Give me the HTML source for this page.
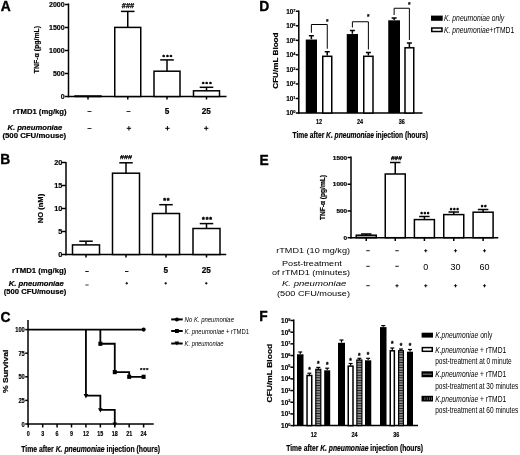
<!DOCTYPE html>
<html><head><meta charset="utf-8"><title>Figure</title>
<style>html,body{margin:0;padding:0;background:#fff;width:520px;height:455px;overflow:hidden}
svg{display:block;font-family:"Liberation Sans",sans-serif;filter:grayscale(1)}
text[font-weight="bold"]:not([stroke]){stroke:#000;stroke-width:0.2px}</style></head>
<body><svg width="520" height="455" viewBox="0 0 520 455" font-family="Liberation Sans, sans-serif"><defs>
<pattern id="hs" patternUnits="userSpaceOnUse" width="4" height="2.55"><rect width="4" height="2.55" fill="#1a1a1a"/><rect y="1.2" width="4" height="1.0" fill="#ddd"/></pattern>
<pattern id="vs" patternUnits="userSpaceOnUse" width="1.6" height="4"><rect width="1.6" height="4" fill="#fff"/><rect width="0.9" height="4" fill="#222"/></pattern>
</defs>
<text x="0.8" y="10.9" font-size="13.8" font-weight="bold" font-style="normal" text-anchor="start" fill="#000" stroke="#000" stroke-width="0.35">A</text>
<line x1="64.8" y1="4.5" x2="68.5" y2="4.5" stroke="#000" stroke-width="1.5"/>
<text x="64.6" y="7.0" font-size="7" font-weight="bold" font-style="normal" text-anchor="end" fill="#000">2000</text>
<line x1="64.8" y1="27.5" x2="68.5" y2="27.5" stroke="#000" stroke-width="1.5"/>
<text x="64.6" y="30.0" font-size="7" font-weight="bold" font-style="normal" text-anchor="end" fill="#000">1500</text>
<line x1="64.8" y1="50.5" x2="68.5" y2="50.5" stroke="#000" stroke-width="1.5"/>
<text x="64.6" y="53.0" font-size="7" font-weight="bold" font-style="normal" text-anchor="end" fill="#000">1000</text>
<line x1="64.8" y1="73.5" x2="68.5" y2="73.5" stroke="#000" stroke-width="1.5"/>
<text x="64.6" y="76.0" font-size="7" font-weight="bold" font-style="normal" text-anchor="end" fill="#000">500</text>
<line x1="64.8" y1="96.5" x2="68.5" y2="96.5" stroke="#000" stroke-width="1.5"/>
<text x="64.6" y="99.0" font-size="7" font-weight="bold" font-style="normal" text-anchor="end" fill="#000">0</text>
<line x1="68.5" y1="3.5" x2="68.5" y2="97.25" stroke="#000" stroke-width="1.5"/>
<line x1="67.75" y1="96.5" x2="226.5" y2="96.5" stroke="#000" stroke-width="1.5"/>
<text transform="translate(39.0,49.6) rotate(-90)" x="0" y="0" font-size="7.6" font-weight="bold" font-style="normal" text-anchor="middle" textLength="47.5" lengthAdjust="spacingAndGlyphs">TNF-α (pg/mL)</text>
<line x1="88" y1="96.5" x2="88" y2="99.5" stroke="#000" stroke-width="1.5"/>
<rect x="75.0" y="96.0" width="26.0" height="0.5" fill="#fff" stroke="#000" stroke-width="1.5"/>
<line x1="127.75" y1="96.5" x2="127.75" y2="99.5" stroke="#000" stroke-width="1.5"/>
<line x1="127.75" y1="27.4" x2="127.75" y2="11.4" stroke="#000" stroke-width="1.5"/>
<line x1="120.95" y1="11.4" x2="134.55" y2="11.4" stroke="#000" stroke-width="1.5"/>
<rect x="114.75" y="27.4" width="26.0" height="69.1" fill="#fff" stroke="#000" stroke-width="1.5"/>
<line x1="167" y1="96.5" x2="167" y2="99.5" stroke="#000" stroke-width="1.5"/>
<line x1="167" y1="71.2" x2="167" y2="59.9" stroke="#000" stroke-width="1.5"/>
<line x1="160.2" y1="59.9" x2="173.8" y2="59.9" stroke="#000" stroke-width="1.5"/>
<rect x="154.0" y="71.2" width="26.0" height="25.299999999999997" fill="#fff" stroke="#000" stroke-width="1.5"/>
<line x1="206.5" y1="96.5" x2="206.5" y2="99.5" stroke="#000" stroke-width="1.5"/>
<line x1="206.5" y1="90.8" x2="206.5" y2="87.3" stroke="#000" stroke-width="1.5"/>
<line x1="199.7" y1="87.3" x2="213.3" y2="87.3" stroke="#000" stroke-width="1.5"/>
<rect x="193.5" y="90.8" width="26.0" height="5.700000000000003" fill="#fff" stroke="#000" stroke-width="1.5"/>
<text x="121.85" y="7.50" font-size="6.46" font-weight="bold" textLength="12.3" lengthAdjust="spacingAndGlyphs" stroke="#000" stroke-width="0.25">###</text>
<text x="163.80" y="58.76" font-size="6.1" font-weight="bold" text-anchor="middle" stroke="#000" stroke-width="0.45">*</text>
<text x="167.40" y="58.76" font-size="6.1" font-weight="bold" text-anchor="middle" stroke="#000" stroke-width="0.45">*</text>
<text x="171.00" y="58.76" font-size="6.1" font-weight="bold" text-anchor="middle" stroke="#000" stroke-width="0.45">*</text>
<text x="203.20" y="85.86" font-size="6.1" font-weight="bold" text-anchor="middle" stroke="#000" stroke-width="0.45">*</text>
<text x="206.80" y="85.86" font-size="6.1" font-weight="bold" text-anchor="middle" stroke="#000" stroke-width="0.45">*</text>
<text x="210.40" y="85.86" font-size="6.1" font-weight="bold" text-anchor="middle" stroke="#000" stroke-width="0.45">*</text>
<text x="12.8" y="113.5" font-size="7.5" font-weight="bold" font-style="normal" text-anchor="start" textLength="53.8" lengthAdjust="spacingAndGlyphs" fill="#000">rTMD1 (mg/kg)</text>
<text x="7.4" y="129.9" font-size="7.5" font-weight="bold" font-style="italic" text-anchor="start" textLength="54.8" lengthAdjust="spacingAndGlyphs" fill="#000">K. pneumoniae</text>
<text x="2.4" y="138.4" font-size="7.5" font-weight="bold" font-style="normal" text-anchor="start" textLength="63.8" lengthAdjust="spacingAndGlyphs" fill="#000">(500  CFU/mouse)</text>
<rect x="87.5" y="111.0" width="4.0" height="0.8000000000000114" fill="#000"/>
<rect x="126.5" y="111.0" width="4.0" height="0.8000000000000114" fill="#000"/>
<text x="167" y="113.9" font-size="8.2" font-weight="bold" font-style="normal" text-anchor="middle" fill="#000">5</text>
<text x="206.3" y="113.9" font-size="8.2" font-weight="bold" font-style="normal" text-anchor="middle" fill="#000">25</text>
<rect x="87.5" y="128.1" width="4.0" height="0.8000000000000114" fill="#000"/>
<rect x="126.7" y="127.80000000000001" width="4.3999999999999915" height="1.0" fill="#000"/>
<rect x="128.4" y="126.10000000000001" width="1.0" height="4.3999999999999915" fill="#000"/>
<rect x="165.20000000000002" y="127.80000000000001" width="4.399999999999977" height="1.0" fill="#000"/>
<rect x="166.9" y="126.10000000000001" width="1.0" height="4.3999999999999915" fill="#000"/>
<rect x="204.0" y="127.80000000000001" width="4.399999999999977" height="1.0" fill="#000"/>
<rect x="205.7" y="126.10000000000001" width="1.0" height="4.3999999999999915" fill="#000"/>
<text x="0.2" y="163.6" font-size="13.8" font-weight="bold" font-style="normal" text-anchor="start" fill="#000" stroke="#000" stroke-width="0.35">B</text>
<line x1="62" y1="162.5" x2="66" y2="162.5" stroke="#000" stroke-width="1.5"/>
<text x="62.4" y="165.0" font-size="7.3" font-weight="bold" font-style="normal" text-anchor="end" fill="#000">20</text>
<line x1="62" y1="185.5" x2="66" y2="185.5" stroke="#000" stroke-width="1.5"/>
<text x="62.4" y="188.0" font-size="7.3" font-weight="bold" font-style="normal" text-anchor="end" fill="#000">15</text>
<line x1="62" y1="208.5" x2="66" y2="208.5" stroke="#000" stroke-width="1.5"/>
<text x="62.4" y="211.0" font-size="7.3" font-weight="bold" font-style="normal" text-anchor="end" fill="#000">10</text>
<line x1="62" y1="231.5" x2="66" y2="231.5" stroke="#000" stroke-width="1.5"/>
<text x="62.4" y="234.0" font-size="7.3" font-weight="bold" font-style="normal" text-anchor="end" fill="#000">5</text>
<line x1="62" y1="254.5" x2="66" y2="254.5" stroke="#000" stroke-width="1.5"/>
<text x="62.4" y="257.0" font-size="7.3" font-weight="bold" font-style="normal" text-anchor="end" fill="#000">0</text>
<line x1="66" y1="162" x2="66" y2="255.25" stroke="#000" stroke-width="1.5"/>
<line x1="65.25" y1="254.5" x2="226.25" y2="254.5" stroke="#000" stroke-width="1.5"/>
<text transform="translate(42.5,208.5) rotate(-90)" x="0" y="0" font-size="7.6" font-weight="bold" font-style="normal" text-anchor="middle" textLength="29.3" lengthAdjust="spacingAndGlyphs">NO (nM)</text>
<line x1="86" y1="254.5" x2="86" y2="257.5" stroke="#000" stroke-width="1.5"/>
<line x1="86" y1="244.9" x2="86" y2="241.2" stroke="#000" stroke-width="1.5"/>
<line x1="79.25" y1="241.2" x2="92.75" y2="241.2" stroke="#000" stroke-width="1.5"/>
<rect x="72.5" y="244.9" width="27.0" height="9.599999999999994" fill="#fff" stroke="#000" stroke-width="1.5"/>
<line x1="126" y1="254.5" x2="126" y2="257.5" stroke="#000" stroke-width="1.5"/>
<line x1="126" y1="173.2" x2="126" y2="162.8" stroke="#000" stroke-width="1.5"/>
<line x1="119.25" y1="162.8" x2="132.75" y2="162.8" stroke="#000" stroke-width="1.5"/>
<rect x="112.5" y="173.2" width="27.0" height="81.30000000000001" fill="#fff" stroke="#000" stroke-width="1.5"/>
<line x1="166" y1="254.5" x2="166" y2="257.5" stroke="#000" stroke-width="1.5"/>
<line x1="166" y1="213.5" x2="166" y2="204.7" stroke="#000" stroke-width="1.5"/>
<line x1="159.25" y1="204.7" x2="172.75" y2="204.7" stroke="#000" stroke-width="1.5"/>
<rect x="152.5" y="213.5" width="27.0" height="41.0" fill="#fff" stroke="#000" stroke-width="1.5"/>
<line x1="206.5" y1="254.5" x2="206.5" y2="257.5" stroke="#000" stroke-width="1.5"/>
<line x1="206.5" y1="228.5" x2="206.5" y2="223.6" stroke="#000" stroke-width="1.5"/>
<line x1="199.75" y1="223.6" x2="213.25" y2="223.6" stroke="#000" stroke-width="1.5"/>
<rect x="193.0" y="228.5" width="27.0" height="26.0" fill="#fff" stroke="#000" stroke-width="1.5"/>
<text x="120.00" y="159.10" font-size="6.17" font-weight="bold" textLength="12" lengthAdjust="spacingAndGlyphs" stroke="#000" stroke-width="0.25">###</text>
<text x="164.50" y="203.21" font-size="7" font-weight="bold" text-anchor="middle" stroke="#000" stroke-width="0.45">*</text>
<text x="168.10" y="203.21" font-size="7" font-weight="bold" text-anchor="middle" stroke="#000" stroke-width="0.45">*</text>
<text x="203.40" y="222.41" font-size="7" font-weight="bold" text-anchor="middle" stroke="#000" stroke-width="0.45">*</text>
<text x="207.00" y="222.41" font-size="7" font-weight="bold" text-anchor="middle" stroke="#000" stroke-width="0.45">*</text>
<text x="210.60" y="222.41" font-size="7" font-weight="bold" text-anchor="middle" stroke="#000" stroke-width="0.45">*</text>
<text x="12" y="273" font-size="7.5" font-weight="bold" font-style="normal" text-anchor="start" textLength="54.25" lengthAdjust="spacingAndGlyphs" fill="#000">rTMD1 (mg/kg)</text>
<text x="8.75" y="285.8" font-size="7.5" font-weight="bold" font-style="italic" text-anchor="start" textLength="55.0" lengthAdjust="spacingAndGlyphs" fill="#000">K. pneumoniae</text>
<text x="3.75" y="294" font-size="7.5" font-weight="bold" font-style="normal" text-anchor="start" textLength="62.5" lengthAdjust="spacingAndGlyphs" fill="#000">(500 CFU/mouse)</text>
<rect x="85.25" y="271.05" width="3.5" height="0.8999999999999773" fill="#000"/>
<rect x="125.0" y="271.05" width="3.5" height="0.8999999999999773" fill="#000"/>
<text x="165.9" y="273.3" font-size="8.2" font-weight="bold" font-style="normal" text-anchor="middle" fill="#000">5</text>
<text x="206.3" y="273.3" font-size="8.2" font-weight="bold" font-style="normal" text-anchor="middle" fill="#000">25</text>
<rect x="85.4" y="284.6" width="3.1999999999999886" height="0.7999999999999545" fill="#000"/>
<rect x="125.5" y="282.8" width="2.5" height="0.8999999999999773" fill="#000"/>
<rect x="126.3" y="282.0" width="0.9000000000000057" height="2.5" fill="#000"/>
<rect x="164.5" y="282.8" width="2.5" height="0.8999999999999773" fill="#000"/>
<rect x="165.3" y="282.0" width="0.8999999999999773" height="2.5" fill="#000"/>
<rect x="205.0" y="282.8" width="2.5" height="0.8999999999999773" fill="#000"/>
<rect x="205.8" y="282.0" width="0.8999999999999773" height="2.5" fill="#000"/>
<text x="0.4" y="322.1" font-size="13.8" font-weight="bold" font-style="normal" text-anchor="start" fill="#000" stroke="#000" stroke-width="0.35">C</text>
<line x1="25.2" y1="329.6" x2="28" y2="329.6" stroke="#000" stroke-width="1.5"/>
<text x="15.2" y="332.1" font-size="7" font-weight="bold" font-style="normal" text-anchor="start" textLength="9.6" lengthAdjust="spacingAndGlyphs" fill="#000">100</text>
<line x1="25.2" y1="353.2" x2="28" y2="353.2" stroke="#000" stroke-width="1.5"/>
<text x="18.4" y="355.7" font-size="7" font-weight="bold" font-style="normal" text-anchor="start" textLength="6.4" lengthAdjust="spacingAndGlyphs" fill="#000">75</text>
<line x1="25.2" y1="376.8" x2="28" y2="376.8" stroke="#000" stroke-width="1.5"/>
<text x="18.4" y="379.3" font-size="7" font-weight="bold" font-style="normal" text-anchor="start" textLength="6.4" lengthAdjust="spacingAndGlyphs" fill="#000">50</text>
<line x1="25.2" y1="400.4" x2="28" y2="400.4" stroke="#000" stroke-width="1.5"/>
<text x="18.4" y="402.9" font-size="7" font-weight="bold" font-style="normal" text-anchor="start" textLength="6.4" lengthAdjust="spacingAndGlyphs" fill="#000">25</text>
<line x1="25.2" y1="424.0" x2="28" y2="424.0" stroke="#000" stroke-width="1.5"/>
<text x="21.6" y="426.5" font-size="7" font-weight="bold" font-style="normal" text-anchor="start" textLength="3.2" lengthAdjust="spacingAndGlyphs" fill="#000">0</text>
<line x1="28" y1="320" x2="28" y2="424.75" stroke="#000" stroke-width="1.5"/>
<line x1="27.25" y1="424" x2="153.75" y2="424" stroke="#000" stroke-width="1.5"/>
<text transform="translate(7.5,371.3) rotate(-90)" x="0" y="0" font-size="7.4" font-weight="bold" font-style="normal" text-anchor="middle" textLength="43.5" lengthAdjust="spacingAndGlyphs">% Survival</text>
<line x1="28.25" y1="424" x2="28.25" y2="427.5" stroke="#000" stroke-width="1.5"/>
<text x="26.75" y="435.6" font-size="7.9" font-weight="bold" font-style="normal" text-anchor="start" textLength="3.0" lengthAdjust="spacingAndGlyphs" fill="#000">0</text>
<line x1="42.67" y1="424" x2="42.67" y2="427.5" stroke="#000" stroke-width="1.5"/>
<text x="41.17" y="435.6" font-size="7.9" font-weight="bold" font-style="normal" text-anchor="start" textLength="3.0" lengthAdjust="spacingAndGlyphs" fill="#000">3</text>
<line x1="57.09" y1="424" x2="57.09" y2="427.5" stroke="#000" stroke-width="1.5"/>
<text x="55.59" y="435.6" font-size="7.9" font-weight="bold" font-style="normal" text-anchor="start" textLength="3.0" lengthAdjust="spacingAndGlyphs" fill="#000">6</text>
<line x1="71.50999999999999" y1="424" x2="71.50999999999999" y2="427.5" stroke="#000" stroke-width="1.5"/>
<text x="70.00999999999999" y="435.6" font-size="7.9" font-weight="bold" font-style="normal" text-anchor="start" textLength="3.0" lengthAdjust="spacingAndGlyphs" fill="#000">9</text>
<line x1="85.93" y1="424" x2="85.93" y2="427.5" stroke="#000" stroke-width="1.5"/>
<text x="82.93" y="435.6" font-size="7.9" font-weight="bold" font-style="normal" text-anchor="start" textLength="6.0" lengthAdjust="spacingAndGlyphs" fill="#000">12</text>
<line x1="100.35" y1="424" x2="100.35" y2="427.5" stroke="#000" stroke-width="1.5"/>
<text x="97.35" y="435.6" font-size="7.9" font-weight="bold" font-style="normal" text-anchor="start" textLength="6.0" lengthAdjust="spacingAndGlyphs" fill="#000">15</text>
<line x1="114.77" y1="424" x2="114.77" y2="427.5" stroke="#000" stroke-width="1.5"/>
<text x="111.77" y="435.6" font-size="7.9" font-weight="bold" font-style="normal" text-anchor="start" textLength="6.0" lengthAdjust="spacingAndGlyphs" fill="#000">18</text>
<line x1="129.19" y1="424" x2="129.19" y2="427.5" stroke="#000" stroke-width="1.5"/>
<text x="126.19" y="435.6" font-size="7.9" font-weight="bold" font-style="normal" text-anchor="start" textLength="6.0" lengthAdjust="spacingAndGlyphs" fill="#000">21</text>
<line x1="143.61" y1="424" x2="143.61" y2="427.5" stroke="#000" stroke-width="1.5"/>
<text x="140.61" y="435.6" font-size="7.9" font-weight="bold" font-style="normal" text-anchor="start" textLength="6.0" lengthAdjust="spacingAndGlyphs" fill="#000">24</text>
<line x1="28" y1="329.6" x2="143.61" y2="329.6" stroke="#000" stroke-width="1.8"/>
<circle cx="143.61" cy="329.6" r="2.1" fill="#000"/>
<polyline points="100.35,329.6 100.35,329.6 100.35,343.76 114.77,343.76 114.77,372.08 129.19,372.08 129.19,376.8 143.61,376.8" stroke="#000" stroke-width="1.8" fill="none" stroke-linejoin="miter"/>
<rect x="98.35" y="341.65999999999997" width="4.0" height="4.2000000000000455" fill="#000"/>
<rect x="112.77" y="369.97999999999996" width="4.0" height="4.2000000000000455" fill="#000"/>
<rect x="127.19" y="374.7" width="4.0" height="4.2000000000000455" fill="#000"/>
<rect x="141.61" y="374.7" width="4.0" height="4.2000000000000455" fill="#000"/>
<polyline points="85.93,329.6 85.93,395.68 100.35,395.68 100.35,409.84 114.77,409.84 114.77,424" stroke="#000" stroke-width="1.8" fill="none" stroke-linejoin="miter"/>
<polygon points="83.63000000000001,394.08 88.23,394.08 85.93,398.38" fill="#000"/>
<polygon points="98.05,408.23999999999995 102.64999999999999,408.23999999999995 100.35,412.53999999999996" fill="#000"/>
<polygon points="112.47,422.4 117.07,422.4 114.77,426.7" fill="#000"/>
<text x="141.20" y="372.21" font-size="6.2" font-weight="bold" text-anchor="middle" stroke="#000" stroke-width="0.25">*</text>
<text x="144.20" y="372.21" font-size="6.2" font-weight="bold" text-anchor="middle" stroke="#000" stroke-width="0.25">*</text>
<text x="147.20" y="372.21" font-size="6.2" font-weight="bold" text-anchor="middle" stroke="#000" stroke-width="0.25">*</text>
<text x="21.25" y="451.9" font-size="8.2" font-weight="bold" font-style="normal" text-anchor="start" textLength="138.75" lengthAdjust="spacingAndGlyphs" fill="#000">Time after <tspan font-style="italic">K. pneumoniae</tspan> injection (hours)</text>
<line x1="171.2" y1="319.4" x2="182.7" y2="319.4" stroke="#000" stroke-width="2"/>
<circle cx="176.9" cy="319.4" r="2" fill="#000"/>
<text x="184.6" y="321.9" font-size="7" font-weight="normal" font-style="normal" text-anchor="start" textLength="49.4" lengthAdjust="spacingAndGlyphs" fill="#000"><tspan font-style="italic">No K. pneumoniae</tspan></text>
<line x1="171.2" y1="331" x2="182.7" y2="331" stroke="#000" stroke-width="2"/>
<rect x="175" y="329" width="3.8000000000000114" height="4" fill="#000"/>
<text x="184.6" y="333.5" font-size="7" font-weight="normal" font-style="normal" text-anchor="start" textLength="64.4" lengthAdjust="spacingAndGlyphs" fill="#000"><tspan font-style="italic">K. pneumoniae</tspan> + rTMD1</text>
<line x1="171.2" y1="343.5" x2="182.7" y2="343.5" stroke="#000" stroke-width="2"/>
<polygon points="174.6,341.5 179.20000000000002,341.5 176.9,345.5" fill="#000"/>
<text x="184.6" y="346.0" font-size="7" font-weight="normal" font-style="normal" text-anchor="start" textLength="38.9" lengthAdjust="spacingAndGlyphs" fill="#000"><tspan font-style="italic">K. pneumoniae</tspan></text>
<text x="259.3" y="10.6" font-size="13.8" font-weight="bold" font-style="normal" text-anchor="start" fill="#000" stroke="#000" stroke-width="0.35">D</text>
<line x1="295.8" y1="113.0" x2="298.8" y2="113.0" stroke="#000" stroke-width="1.5"/>
<text x="293.3" y="115.30" font-size="6.4" font-weight="bold" text-anchor="end">10</text>
<text x="293.3" y="113.30" font-size="3.9" font-weight="bold" text-anchor="start">0</text>
<line x1="295.8" y1="98.46428571428571" x2="298.8" y2="98.46428571428571" stroke="#000" stroke-width="1.5"/>
<text x="293.3" y="100.76" font-size="6.4" font-weight="bold" text-anchor="end">10</text>
<text x="293.3" y="98.76" font-size="3.9" font-weight="bold" text-anchor="start">1</text>
<line x1="295.8" y1="83.92857142857143" x2="298.8" y2="83.92857142857143" stroke="#000" stroke-width="1.5"/>
<text x="293.3" y="86.23" font-size="6.4" font-weight="bold" text-anchor="end">10</text>
<text x="293.3" y="84.23" font-size="3.9" font-weight="bold" text-anchor="start">2</text>
<line x1="295.8" y1="69.39285714285714" x2="298.8" y2="69.39285714285714" stroke="#000" stroke-width="1.5"/>
<text x="293.3" y="71.69" font-size="6.4" font-weight="bold" text-anchor="end">10</text>
<text x="293.3" y="69.69" font-size="3.9" font-weight="bold" text-anchor="start">3</text>
<line x1="295.8" y1="54.857142857142854" x2="298.8" y2="54.857142857142854" stroke="#000" stroke-width="1.5"/>
<text x="293.3" y="57.16" font-size="6.4" font-weight="bold" text-anchor="end">10</text>
<text x="293.3" y="55.16" font-size="3.9" font-weight="bold" text-anchor="start">4</text>
<line x1="295.8" y1="40.32142857142857" x2="298.8" y2="40.32142857142857" stroke="#000" stroke-width="1.5"/>
<text x="293.3" y="42.62" font-size="6.4" font-weight="bold" text-anchor="end">10</text>
<text x="293.3" y="40.62" font-size="3.9" font-weight="bold" text-anchor="start">5</text>
<line x1="295.8" y1="25.785714285714278" x2="298.8" y2="25.785714285714278" stroke="#000" stroke-width="1.5"/>
<text x="293.3" y="28.09" font-size="6.4" font-weight="bold" text-anchor="end">10</text>
<text x="293.3" y="26.09" font-size="3.9" font-weight="bold" text-anchor="start">6</text>
<line x1="295.8" y1="11.25" x2="298.8" y2="11.25" stroke="#000" stroke-width="1.5"/>
<text x="293.3" y="13.55" font-size="6.4" font-weight="bold" text-anchor="end">10</text>
<text x="293.3" y="11.55" font-size="3.9" font-weight="bold" text-anchor="start">7</text>
<line x1="298.8" y1="10.5" x2="298.8" y2="113.75" stroke="#000" stroke-width="1.5"/>
<line x1="298.05" y1="113" x2="422.5" y2="113" stroke="#000" stroke-width="1.5"/>
<text transform="translate(278,60.6) rotate(-90)" x="0" y="0" font-size="7.6" font-weight="bold" font-style="normal" text-anchor="middle" textLength="56.2" lengthAdjust="spacingAndGlyphs">CFU/mL Blood</text>
<line x1="311.375" y1="39.25" x2="311.375" y2="35.75" stroke="#000" stroke-width="1.5"/>
<line x1="308.875" y1="35.75" x2="313.875" y2="35.75" stroke="#000" stroke-width="1.5"/>
<line x1="327.25" y1="55.5" x2="327.25" y2="51.75" stroke="#000" stroke-width="1.5"/>
<line x1="324.75" y1="51.75" x2="329.75" y2="51.75" stroke="#000" stroke-width="1.5"/>
<rect x="305.75" y="39.55" width="11.25" height="73.45" fill="#000"/>
<rect x="322.75" y="56.3" width="9.0" height="56.7" fill="#fff" stroke="#000" stroke-width="1.5"/>
<polyline points="311.375,32.75 311.375,24.5 327.25,24.5 327.25,48.75" stroke="#000" stroke-width="1.0" fill="none" stroke-linejoin="miter"/>
<text x="327.25" y="23.76" font-size="6.5" font-weight="bold" text-anchor="middle" stroke="#000" stroke-width="0.2">*</text>
<line x1="352.375" y1="33.75" x2="352.375" y2="30.5" stroke="#000" stroke-width="1.5"/>
<line x1="349.875" y1="30.5" x2="354.875" y2="30.5" stroke="#000" stroke-width="1.5"/>
<line x1="368.375" y1="55.5" x2="368.375" y2="52.5" stroke="#000" stroke-width="1.5"/>
<line x1="365.875" y1="52.5" x2="370.875" y2="52.5" stroke="#000" stroke-width="1.5"/>
<rect x="346.75" y="34.05" width="11.25" height="78.95" fill="#000"/>
<rect x="363.75" y="56.3" width="9.25" height="56.7" fill="#fff" stroke="#000" stroke-width="1.5"/>
<polyline points="352.375,27.5 352.375,21.75 368.375,21.75 368.375,49.5" stroke="#000" stroke-width="1.0" fill="none" stroke-linejoin="miter"/>
<text x="368.38" y="18.76" font-size="6.5" font-weight="bold" text-anchor="middle" stroke="#000" stroke-width="0.2">*</text>
<line x1="394.125" y1="20" x2="394.125" y2="18" stroke="#000" stroke-width="1.5"/>
<line x1="391.625" y1="18" x2="396.625" y2="18" stroke="#000" stroke-width="1.5"/>
<line x1="409.375" y1="47" x2="409.375" y2="43" stroke="#000" stroke-width="1.5"/>
<line x1="406.875" y1="43" x2="411.875" y2="43" stroke="#000" stroke-width="1.5"/>
<rect x="388.25" y="20.3" width="11.75" height="92.7" fill="#000"/>
<rect x="405.0" y="47.8" width="8.75" height="65.2" fill="#fff" stroke="#000" stroke-width="1.5"/>
<polyline points="394.125,15 394.125,8.25 409.375,8.25 409.375,40" stroke="#000" stroke-width="1.0" fill="none" stroke-linejoin="miter"/>
<text x="409.38" y="6.76" font-size="6.5" font-weight="bold" text-anchor="middle" stroke="#000" stroke-width="0.2">*</text>
<text x="316.05" y="123.7" font-size="7.7" font-weight="bold" font-style="normal" text-anchor="start" textLength="6.1" lengthAdjust="spacingAndGlyphs" fill="#000">12</text>
<text x="356.95" y="123.7" font-size="7.7" font-weight="bold" font-style="normal" text-anchor="start" textLength="6.1" lengthAdjust="spacingAndGlyphs" fill="#000">24</text>
<text x="398.7" y="123.7" font-size="7.7" font-weight="bold" font-style="normal" text-anchor="start" textLength="6.1" lengthAdjust="spacingAndGlyphs" fill="#000">36</text>
<text x="292.5" y="137.5" font-size="8.2" font-weight="bold" font-style="normal" text-anchor="start" textLength="135.5" lengthAdjust="spacingAndGlyphs" fill="#000">Time after <tspan font-style="italic">K. pneumoniae</tspan> injection (hours)</text>
<rect x="431" y="15.6" width="11.699999999999989" height="5.200000000000001" fill="#000"/>
<rect x="431.75" y="28.0" width="10.25" height="3.5" fill="#fff" stroke="#000" stroke-width="1.5"/>
<text x="444" y="21.1" font-size="8.3" font-weight="normal" font-style="italic" text-anchor="start" textLength="60.2" lengthAdjust="spacingAndGlyphs" fill="#000">K. pneumoniae only</text>
<text x="444" y="32.6" font-size="8.3" font-weight="normal" font-style="normal" text-anchor="start" textLength="70.2" lengthAdjust="spacingAndGlyphs" fill="#000"><tspan font-style="italic">K. pneumoniae</tspan>+rTMD1</text>
<text x="259.5" y="164.7" font-size="13.8" font-weight="bold" font-style="normal" text-anchor="start" fill="#000" stroke="#000" stroke-width="0.35">E</text>
<line x1="347.6" y1="157.5" x2="351" y2="157.5" stroke="#000" stroke-width="1.5"/>
<text x="332.8" y="159.6" font-size="6.2" font-weight="bold" font-style="normal" text-anchor="start" textLength="14.4" lengthAdjust="spacingAndGlyphs" fill="#000">1500</text>
<line x1="347.6" y1="184.23333333333332" x2="351" y2="184.23333333333332" stroke="#000" stroke-width="1.5"/>
<text x="332.8" y="186.33333333333331" font-size="6.2" font-weight="bold" font-style="normal" text-anchor="start" textLength="14.4" lengthAdjust="spacingAndGlyphs" fill="#000">1000</text>
<line x1="347.6" y1="210.96666666666667" x2="351" y2="210.96666666666667" stroke="#000" stroke-width="1.5"/>
<text x="336.4" y="213.06666666666666" font-size="6.2" font-weight="bold" font-style="normal" text-anchor="start" textLength="10.8" lengthAdjust="spacingAndGlyphs" fill="#000">500</text>
<line x1="347.6" y1="237.7" x2="351" y2="237.7" stroke="#000" stroke-width="1.5"/>
<text x="343.59999999999997" y="239.79999999999998" font-size="6.2" font-weight="bold" font-style="normal" text-anchor="start" textLength="3.6" lengthAdjust="spacingAndGlyphs" fill="#000">0</text>
<line x1="351" y1="156.5" x2="351" y2="238.45" stroke="#000" stroke-width="1.5"/>
<line x1="350.25" y1="237.7" x2="498.25" y2="237.7" stroke="#000" stroke-width="1.5"/>
<text transform="translate(325.4,197.5) rotate(-90)" x="0" y="0" font-size="6.8" font-weight="bold" font-style="normal" text-anchor="middle" textLength="45" lengthAdjust="spacingAndGlyphs">TNF-α (pg/mL)</text>
<line x1="366.25" y1="237.7" x2="366.25" y2="241" stroke="#000" stroke-width="1.5"/>
<line x1="366.25" y1="235.2" x2="366.25" y2="234" stroke="#000" stroke-width="1.5"/>
<line x1="361.0" y1="234" x2="371.5" y2="234" stroke="#000" stroke-width="1.5"/>
<rect x="356.25" y="235.2" width="20.0" height="2.5" fill="#aaa" stroke="#000" stroke-width="1.5"/>
<line x1="395.25" y1="237.7" x2="395.25" y2="241" stroke="#000" stroke-width="1.5"/>
<line x1="395.25" y1="174" x2="395.25" y2="162.5" stroke="#000" stroke-width="1.5"/>
<line x1="390.0" y1="162.5" x2="400.5" y2="162.5" stroke="#000" stroke-width="1.5"/>
<rect x="385.25" y="174" width="20.0" height="63.69999999999999" fill="#fff" stroke="#000" stroke-width="1.5"/>
<line x1="424.4" y1="237.7" x2="424.4" y2="241" stroke="#000" stroke-width="1.5"/>
<line x1="424.4" y1="219.6" x2="424.4" y2="216.5" stroke="#000" stroke-width="1.5"/>
<line x1="419.15" y1="216.5" x2="429.65" y2="216.5" stroke="#000" stroke-width="1.5"/>
<rect x="414.4" y="219.6" width="20.0" height="18.099999999999994" fill="#fff" stroke="#000" stroke-width="1.5"/>
<line x1="453.75" y1="237.7" x2="453.75" y2="241" stroke="#000" stroke-width="1.5"/>
<line x1="453.75" y1="214.6" x2="453.75" y2="212" stroke="#000" stroke-width="1.5"/>
<line x1="448.5" y1="212" x2="459.0" y2="212" stroke="#000" stroke-width="1.5"/>
<rect x="443.75" y="214.6" width="20.0" height="23.099999999999994" fill="#fff" stroke="#000" stroke-width="1.5"/>
<line x1="483.1" y1="237.7" x2="483.1" y2="241" stroke="#000" stroke-width="1.5"/>
<line x1="483.1" y1="212.2" x2="483.1" y2="209.5" stroke="#000" stroke-width="1.5"/>
<line x1="477.85" y1="209.5" x2="488.35" y2="209.5" stroke="#000" stroke-width="1.5"/>
<rect x="473.1" y="212.2" width="20.0" height="25.5" fill="#fff" stroke="#000" stroke-width="1.5"/>
<text x="390.95" y="159.60" font-size="4.99" font-weight="bold" textLength="10.9" lengthAdjust="spacingAndGlyphs" stroke="#000" stroke-width="0.25">###</text>
<text x="421.70" y="216.11" font-size="5.6" font-weight="bold" text-anchor="middle" stroke="#000" stroke-width="0.45">*</text>
<text x="424.90" y="216.11" font-size="5.6" font-weight="bold" text-anchor="middle" stroke="#000" stroke-width="0.45">*</text>
<text x="428.10" y="216.11" font-size="5.6" font-weight="bold" text-anchor="middle" stroke="#000" stroke-width="0.45">*</text>
<text x="451.10" y="212.11" font-size="5.6" font-weight="bold" text-anchor="middle" stroke="#000" stroke-width="0.45">*</text>
<text x="454.30" y="212.11" font-size="5.6" font-weight="bold" text-anchor="middle" stroke="#000" stroke-width="0.45">*</text>
<text x="457.50" y="212.11" font-size="5.6" font-weight="bold" text-anchor="middle" stroke="#000" stroke-width="0.45">*</text>
<text x="482.15" y="209.21" font-size="5.6" font-weight="bold" text-anchor="middle" stroke="#000" stroke-width="0.45">*</text>
<text x="485.45" y="209.21" font-size="5.6" font-weight="bold" text-anchor="middle" stroke="#000" stroke-width="0.45">*</text>
<text x="276.25" y="253" font-size="7.5" font-weight="normal" font-style="normal" text-anchor="start" textLength="73.75" lengthAdjust="spacingAndGlyphs" fill="#000">rTMD1 (10 mg/kg)</text>
<text x="282" y="265.5" font-size="7.5" font-weight="normal" font-style="normal" text-anchor="start" textLength="59.75" lengthAdjust="spacingAndGlyphs" fill="#000">Post-treatment</text>
<text x="272" y="274.5" font-size="7.5" font-weight="normal" font-style="normal" text-anchor="start" textLength="78" lengthAdjust="spacingAndGlyphs" fill="#000">of rTMD1 (minutes)</text>
<text x="282" y="286" font-size="7.5" font-weight="normal" font-style="italic" text-anchor="start" textLength="64.25" lengthAdjust="spacingAndGlyphs" fill="#000">K. pneumoniae</text>
<text x="277" y="295.5" font-size="7.5" font-weight="normal" font-style="normal" text-anchor="start" textLength="73" lengthAdjust="spacingAndGlyphs" fill="#000">(500 CFU/mouse)</text>
<rect x="366.25" y="250.3" width="3.5" height="0.8999999999999773" fill="#000"/>
<rect x="366.25" y="265.8" width="3.5" height="0.8999999999999773" fill="#000"/>
<rect x="366.25" y="285.3" width="3.5" height="0.8999999999999773" fill="#000"/>
<rect x="395.25" y="250.3" width="3.5" height="0.8999999999999773" fill="#000"/>
<rect x="395.25" y="265.8" width="3.5" height="0.8999999999999773" fill="#000"/>
<rect x="395.4" y="285.3" width="3.2000000000000455" height="0.8999999999999773" fill="#000"/>
<rect x="396.55" y="284.15" width="0.8999999999999773" height="3.2000000000000455" fill="#000"/>
<rect x="424.15" y="250.3" width="3.2000000000000455" height="0.8999999999999773" fill="#000"/>
<rect x="425.3" y="249.15" width="0.8999999999999773" height="3.1999999999999886" fill="#000"/>
<text x="425.75" y="270.35" font-size="9" font-weight="normal" font-style="normal" text-anchor="middle" fill="#000">0</text>
<rect x="424.15" y="285.3" width="3.2000000000000455" height="0.8999999999999773" fill="#000"/>
<rect x="425.3" y="284.15" width="0.8999999999999773" height="3.2000000000000455" fill="#000"/>
<rect x="453.9" y="250.3" width="3.2000000000000455" height="0.8999999999999773" fill="#000"/>
<rect x="455.05" y="249.15" width="0.8999999999999773" height="3.1999999999999886" fill="#000"/>
<text x="455.5" y="270.35" font-size="9" font-weight="normal" font-style="normal" text-anchor="middle" fill="#000">30</text>
<rect x="453.9" y="285.3" width="3.2000000000000455" height="0.8999999999999773" fill="#000"/>
<rect x="455.05" y="284.15" width="0.8999999999999773" height="3.2000000000000455" fill="#000"/>
<rect x="482.9" y="250.3" width="3.2000000000000455" height="0.8999999999999773" fill="#000"/>
<rect x="484.05" y="249.15" width="0.8999999999999773" height="3.1999999999999886" fill="#000"/>
<text x="484.5" y="270.35" font-size="9" font-weight="normal" font-style="normal" text-anchor="middle" fill="#000">60</text>
<rect x="482.9" y="285.3" width="3.2000000000000455" height="0.8999999999999773" fill="#000"/>
<rect x="484.05" y="284.15" width="0.8999999999999773" height="3.2000000000000455" fill="#000"/>
<text x="259.2" y="320.5" font-size="13.8" font-weight="bold" font-style="normal" text-anchor="start" fill="#000" stroke="#000" stroke-width="0.35">F</text>
<line x1="290.4" y1="425.6" x2="293.75" y2="425.6" stroke="#000" stroke-width="1.5"/>
<text x="288.2" y="428.00" font-size="6.4" font-weight="bold" text-anchor="end">10</text>
<text x="288.3" y="425.70" font-size="3.8" font-weight="bold" text-anchor="start">0</text>
<line x1="290.4" y1="413.9222222222222" x2="293.75" y2="413.9222222222222" stroke="#000" stroke-width="1.5"/>
<text x="288.2" y="416.32" font-size="6.4" font-weight="bold" text-anchor="end">10</text>
<text x="288.3" y="414.02" font-size="3.8" font-weight="bold" text-anchor="start">1</text>
<line x1="290.4" y1="402.24444444444447" x2="293.75" y2="402.24444444444447" stroke="#000" stroke-width="1.5"/>
<text x="288.2" y="404.64" font-size="6.4" font-weight="bold" text-anchor="end">10</text>
<text x="288.3" y="402.34" font-size="3.8" font-weight="bold" text-anchor="start">2</text>
<line x1="290.4" y1="390.56666666666666" x2="293.75" y2="390.56666666666666" stroke="#000" stroke-width="1.5"/>
<text x="288.2" y="392.97" font-size="6.4" font-weight="bold" text-anchor="end">10</text>
<text x="288.3" y="390.67" font-size="3.8" font-weight="bold" text-anchor="start">3</text>
<line x1="290.4" y1="378.8888888888889" x2="293.75" y2="378.8888888888889" stroke="#000" stroke-width="1.5"/>
<text x="288.2" y="381.29" font-size="6.4" font-weight="bold" text-anchor="end">10</text>
<text x="288.3" y="378.99" font-size="3.8" font-weight="bold" text-anchor="start">4</text>
<line x1="290.4" y1="367.2111111111111" x2="293.75" y2="367.2111111111111" stroke="#000" stroke-width="1.5"/>
<text x="288.2" y="369.61" font-size="6.4" font-weight="bold" text-anchor="end">10</text>
<text x="288.3" y="367.31" font-size="3.8" font-weight="bold" text-anchor="start">5</text>
<line x1="290.4" y1="355.5333333333333" x2="293.75" y2="355.5333333333333" stroke="#000" stroke-width="1.5"/>
<text x="288.2" y="357.93" font-size="6.4" font-weight="bold" text-anchor="end">10</text>
<text x="288.3" y="355.63" font-size="3.8" font-weight="bold" text-anchor="start">6</text>
<line x1="290.4" y1="343.85555555555555" x2="293.75" y2="343.85555555555555" stroke="#000" stroke-width="1.5"/>
<text x="288.2" y="346.26" font-size="6.4" font-weight="bold" text-anchor="end">10</text>
<text x="288.3" y="343.96" font-size="3.8" font-weight="bold" text-anchor="start">7</text>
<line x1="290.4" y1="332.1777777777778" x2="293.75" y2="332.1777777777778" stroke="#000" stroke-width="1.5"/>
<text x="288.2" y="334.58" font-size="6.4" font-weight="bold" text-anchor="end">10</text>
<text x="288.3" y="332.28" font-size="3.8" font-weight="bold" text-anchor="start">8</text>
<line x1="290.4" y1="320.5" x2="293.75" y2="320.5" stroke="#000" stroke-width="1.5"/>
<text x="288.2" y="322.90" font-size="6.4" font-weight="bold" text-anchor="end">10</text>
<text x="288.3" y="320.60" font-size="3.8" font-weight="bold" text-anchor="start">9</text>
<line x1="293.75" y1="319.5" x2="293.75" y2="426.35" stroke="#000" stroke-width="1.5"/>
<line x1="293.0" y1="425.6" x2="418" y2="425.6" stroke="#000" stroke-width="1.5"/>
<text transform="translate(272,373.1) rotate(-90)" x="0" y="0" font-size="7.4" font-weight="bold" font-style="normal" text-anchor="middle" textLength="58.7" lengthAdjust="spacingAndGlyphs">CFU/mL Blood</text>
<line x1="300.25" y1="354" x2="300.25" y2="352" stroke="#000" stroke-width="1.2"/>
<line x1="298.25" y1="352" x2="302.25" y2="352" stroke="#000" stroke-width="1.2"/>
<rect x="297" y="354.3" width="6.5" height="71.30000000000001" fill="#000"/>
<line x1="309.4" y1="374.9" x2="309.4" y2="373.2" stroke="#000" stroke-width="1.2"/>
<line x1="307.4" y1="373.2" x2="311.4" y2="373.2" stroke="#000" stroke-width="1.2"/>
<rect x="307.05" y="375.5" width="4.699999999999989" height="50.10000000000002" fill="#fff" stroke="#000" stroke-width="1.5"/>
<text x="309.40" y="371.66" font-size="6.5" font-weight="bold" text-anchor="middle" stroke="#000" stroke-width="0.3">*</text>
<line x1="318.29999999999995" y1="369.3" x2="318.29999999999995" y2="367.4" stroke="#000" stroke-width="1.2"/>
<line x1="316.29999999999995" y1="367.4" x2="320.29999999999995" y2="367.4" stroke="#000" stroke-width="1.2"/>
<rect x="315.8" y="369.3" width="4.9999999999999885" height="56.30000000000001" fill="url(#hs)" stroke="#000" stroke-width="1.2"/>
<text x="318.30" y="366.06" font-size="6.5" font-weight="bold" text-anchor="middle" stroke="#000" stroke-width="0.3">*</text>
<line x1="327.2" y1="370" x2="327.2" y2="368.2" stroke="#000" stroke-width="1.2"/>
<line x1="325.2" y1="368.2" x2="329.2" y2="368.2" stroke="#000" stroke-width="1.2"/>
<rect x="324.2" y="370.3" width="6.0" height="55.30000000000001" fill="#000"/>
<text x="327.20" y="366.96" font-size="6.5" font-weight="bold" text-anchor="middle" stroke="#000" stroke-width="0.3">*</text>
<line x1="341.5" y1="342.5" x2="341.5" y2="340" stroke="#000" stroke-width="1.2"/>
<line x1="339.5" y1="340" x2="343.5" y2="340" stroke="#000" stroke-width="1.2"/>
<rect x="338" y="342.8" width="7" height="82.80000000000001" fill="#000"/>
<line x1="350.625" y1="365.5" x2="350.625" y2="363.5" stroke="#000" stroke-width="1.2"/>
<line x1="348.625" y1="363.5" x2="352.625" y2="363.5" stroke="#000" stroke-width="1.2"/>
<rect x="348.25" y="366.1" width="4.75" height="59.5" fill="#fff" stroke="#000" stroke-width="1.5"/>
<text x="350.62" y="362.51" font-size="6.5" font-weight="bold" text-anchor="middle" stroke="#000" stroke-width="0.3">*</text>
<line x1="359.375" y1="360" x2="359.375" y2="358.3" stroke="#000" stroke-width="1.2"/>
<line x1="357.375" y1="358.3" x2="361.375" y2="358.3" stroke="#000" stroke-width="1.2"/>
<rect x="356.85" y="360" width="5.05" height="65.60000000000002" fill="url(#hs)" stroke="#000" stroke-width="1.2"/>
<text x="359.38" y="358.26" font-size="6.5" font-weight="bold" text-anchor="middle" stroke="#000" stroke-width="0.3">*</text>
<line x1="368.125" y1="360" x2="368.125" y2="358.3" stroke="#000" stroke-width="1.2"/>
<line x1="366.125" y1="358.3" x2="370.125" y2="358.3" stroke="#000" stroke-width="1.2"/>
<rect x="365" y="360.3" width="6.25" height="65.30000000000001" fill="#000"/>
<text x="368.12" y="356.51" font-size="6.5" font-weight="bold" text-anchor="middle" stroke="#000" stroke-width="0.3">*</text>
<line x1="383.25" y1="326.8" x2="383.25" y2="325.6" stroke="#000" stroke-width="1.2"/>
<line x1="381.25" y1="325.6" x2="385.25" y2="325.6" stroke="#000" stroke-width="1.2"/>
<rect x="380" y="327.1" width="6.5" height="98.5" fill="#000"/>
<line x1="392.3" y1="350.2" x2="392.3" y2="348" stroke="#000" stroke-width="1.2"/>
<line x1="390.3" y1="348" x2="394.3" y2="348" stroke="#000" stroke-width="1.2"/>
<rect x="390.25" y="350.8" width="4.100000000000023" height="74.80000000000001" fill="#fff" stroke="#000" stroke-width="1.5"/>
<text x="392.30" y="346.26" font-size="6.5" font-weight="bold" text-anchor="middle" stroke="#000" stroke-width="0.3">*</text>
<line x1="401.0" y1="350.7" x2="401.0" y2="349" stroke="#000" stroke-width="1.2"/>
<line x1="399.0" y1="349" x2="403.0" y2="349" stroke="#000" stroke-width="1.2"/>
<rect x="398.6" y="350.7" width="4.8" height="74.90000000000003" fill="url(#hs)" stroke="#000" stroke-width="1.2"/>
<text x="401.00" y="348.26" font-size="6.5" font-weight="bold" text-anchor="middle" stroke="#000" stroke-width="0.3">*</text>
<line x1="410.0" y1="351.4" x2="410.0" y2="349.5" stroke="#000" stroke-width="1.2"/>
<line x1="408.0" y1="349.5" x2="412.0" y2="349.5" stroke="#000" stroke-width="1.2"/>
<rect x="407" y="351.7" width="6" height="73.90000000000003" fill="#000"/>
<text x="410.00" y="347.51" font-size="6.5" font-weight="bold" text-anchor="middle" stroke="#000" stroke-width="0.3">*</text>
<text x="310.7" y="437" font-size="7.7" font-weight="bold" font-style="normal" text-anchor="start" textLength="6.1" lengthAdjust="spacingAndGlyphs" fill="#000">12</text>
<text x="351.45" y="437" font-size="7.7" font-weight="bold" font-style="normal" text-anchor="start" textLength="6.1" lengthAdjust="spacingAndGlyphs" fill="#000">24</text>
<text x="393.15" y="437" font-size="7.7" font-weight="bold" font-style="normal" text-anchor="start" textLength="6.1" lengthAdjust="spacingAndGlyphs" fill="#000">36</text>
<text x="286.25" y="451.4" font-size="8.2" font-weight="bold" font-style="normal" text-anchor="start" textLength="136.85" lengthAdjust="spacingAndGlyphs" fill="#000">Time after <tspan font-style="italic">K. pneumoniae</tspan> injection (hours)</text>
<rect x="421.6" y="332.7" width="11.399999999999977" height="4.900000000000034" fill="#000"/>
<rect x="422.35" y="347.6" width="9.899999999999977" height="3.6999999999999886" fill="#fff" stroke="#000" stroke-width="1.5"/>
<rect x="421.5" y="371.3" width="11.5" height="5.899999999999977" fill="#000"/>
<rect x="422.8" y="373.7" width="8.899999999999977" height="0.9000000000000341" fill="#999"/>
<rect x="421.5" y="395.8" width="11.5" height="5.699999999999989" fill="#000"/>
<rect x="424.5" y="397.2" width="0.8000000000000114" height="2.900000000000034" fill="#777"/>
<rect x="426.8" y="397.2" width="0.8000000000000114" height="2.900000000000034" fill="#777"/>
<rect x="429.1" y="397.2" width="0.8000000000000114" height="2.900000000000034" fill="#777"/>
<rect x="431.2" y="397.2" width="0.8000000000000114" height="2.900000000000034" fill="#777"/>
<text x="435.2" y="338.4" font-size="8.6" font-weight="normal" font-style="normal" text-anchor="start" textLength="57.2" lengthAdjust="spacingAndGlyphs" fill="#000"><tspan font-style="italic">K.pneumoniae</tspan> only</text>
<text x="435.2" y="352.7" font-size="8.6" font-weight="normal" font-style="normal" text-anchor="start" textLength="71.0" lengthAdjust="spacingAndGlyphs" fill="#000"><tspan font-style="italic">K.pneumoniae</tspan> + rTMD1</text>
<text x="435.2" y="363.7" font-size="8.6" font-weight="normal" font-style="normal" text-anchor="start" textLength="76.5" lengthAdjust="spacingAndGlyphs" fill="#000">post-treatment at 0 minute</text>
<text x="435.2" y="376.8" font-size="8.6" font-weight="normal" font-style="normal" text-anchor="start" textLength="71.0" lengthAdjust="spacingAndGlyphs" fill="#000"><tspan font-style="italic">K.pneumoniae</tspan> + rTMD1</text>
<text x="435.2" y="388.5" font-size="8.6" font-weight="normal" font-style="normal" text-anchor="start" textLength="83.1" lengthAdjust="spacingAndGlyphs" fill="#000">post-treatment at 30 minutes</text>
<text x="435.2" y="401.5" font-size="8.6" font-weight="normal" font-style="normal" text-anchor="start" textLength="71.0" lengthAdjust="spacingAndGlyphs" fill="#000"><tspan font-style="italic">K.pneumoniae</tspan> + rTMD1</text>
<text x="435.2" y="413.1" font-size="8.6" font-weight="normal" font-style="normal" text-anchor="start" textLength="83.1" lengthAdjust="spacingAndGlyphs" fill="#000">post-treatment at 60 minutes</text></svg></body></html>
